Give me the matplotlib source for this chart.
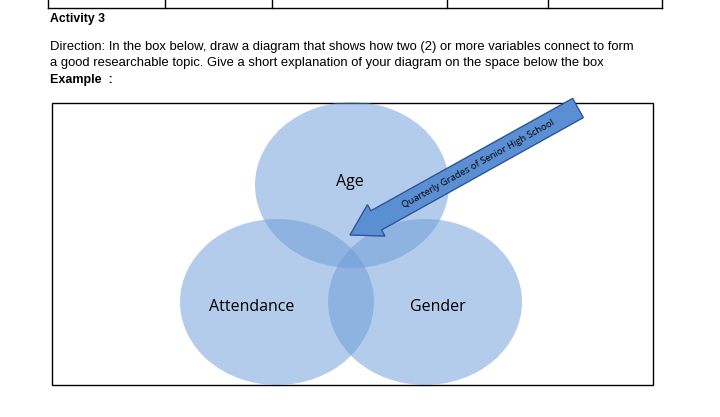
import matplotlib
matplotlib.use("Agg")
import matplotlib.pyplot as plt
from matplotlib.patches import Ellipse, Rectangle, FancyArrow
import numpy as np

labels = ["Age", "Attendance", "Gender"]
centers_x = [352, 277, 425]
centers_y = [185, 302, 302]
label_pos = [(350, 182), (252, 307), (438, 307)]
arrow_text = "Quarterly Grades of Senior High School"

fig = plt.figure(figsize=(7.2, 4.17), dpi=100)
ax = fig.add_axes([0, 0, 1, 1])
ax.set_xlim(0, 720); ax.set_ylim(417, 0); ax.axis("off")

ax.plot([48, 662], [8, 8], color="black", lw=1)
for x in [48, 165, 272, 447, 548, 662]:
    ax.plot([x, x], [0, 8], color="black", lw=1)

ax.text(50, 19, "Activity 3", fontsize=8.8, fontweight="bold", family="Liberation Sans", va="center")
ax.text(50, 47, "Direction: In the box below, draw a diagram that shows how two (2) or more variables connect to form",
        fontsize=9.4, family="Liberation Sans", va="center")
ax.text(50, 63, "a good researchable topic. Give a short explanation of your diagram on the space below the box",
        fontsize=9.4, family="Liberation Sans", va="center")
ax.text(50, 80, "Example  :", fontsize=9.0, fontweight="bold", family="Liberation Sans", va="center")

ax.add_patch(Rectangle((52, 103), 601, 282, fill=False, ec="black", lw=1))

for cx, cy in zip(centers_x, centers_y):
    ax.add_patch(Ellipse((cx, cy), 194, 166, fc="#6b9bd8", ec="none", alpha=0.5))
for lab, (x, y) in zip(labels, label_pos):
    ax.text(x, y, lab, fontsize=11.5, ha="center", va="center", family="Open Sans")

x0, y0, x1, y1 = 578, 108, 350, 235
ax.add_patch(FancyArrow(x0, y0, x1 - x0, y1 - y0, width=22, head_width=36, head_length=30,
                        length_includes_head=True, fc="#5b8fd4", ec="#2f5597", lw=1))
ang = np.degrees(np.arctan2(-(y1 - y0), x1 - x0)) + 180
ax.text(478, 164, arrow_text, rotation=ang, fontsize=6.8,
        ha="center", va="center", family="Open Sans", rotation_mode="anchor")

fig.savefig("out.png", dpi=100)
